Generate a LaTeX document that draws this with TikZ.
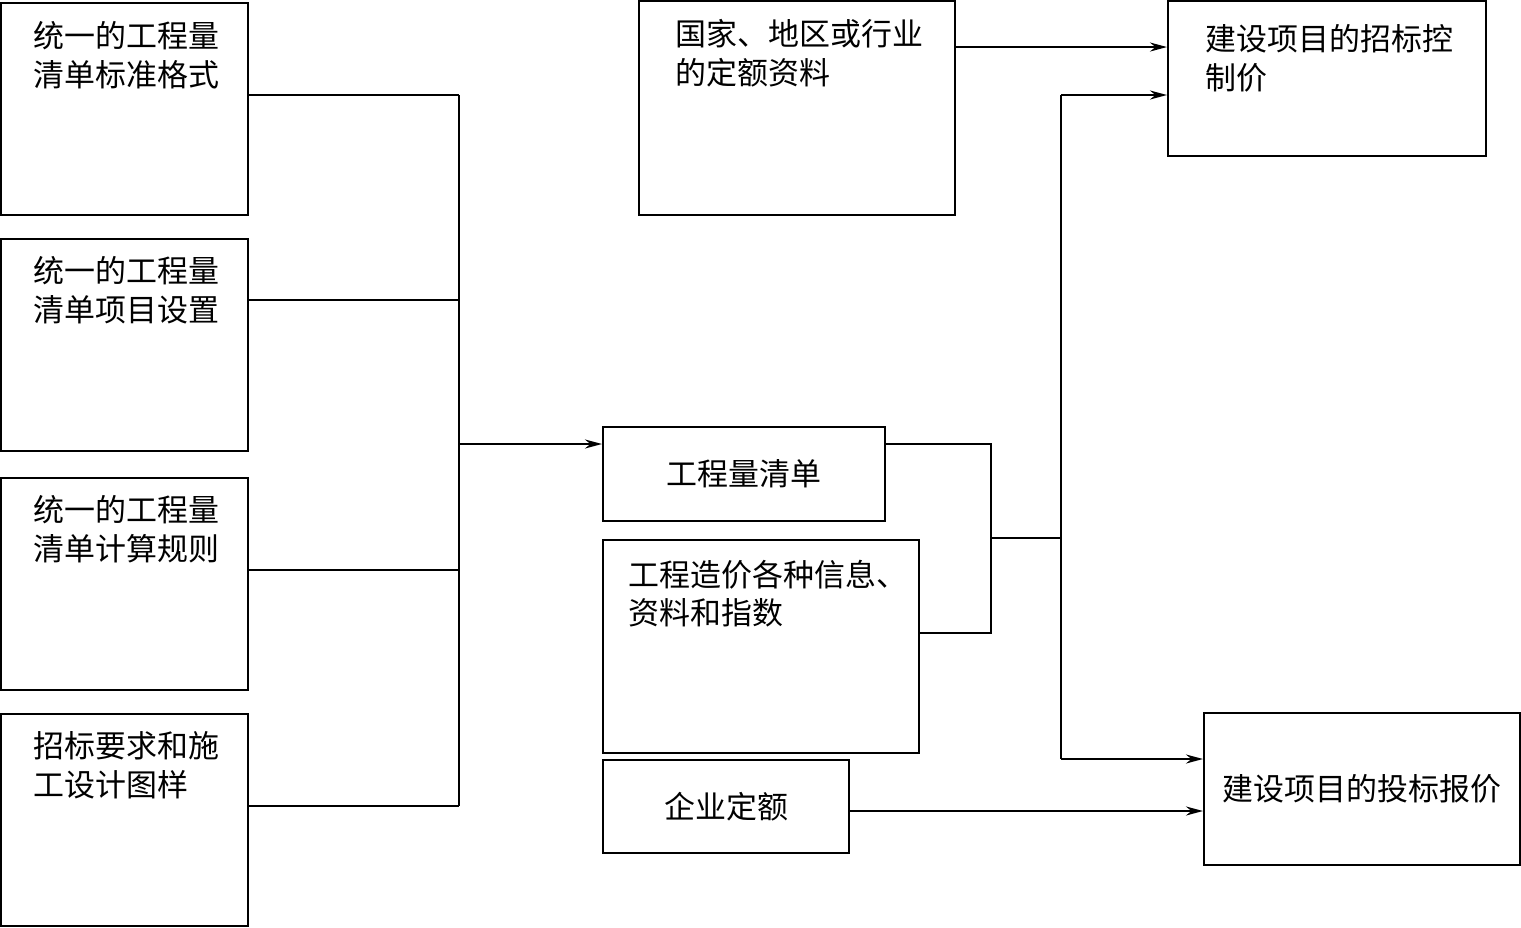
\documentclass[tikz,border=0pt]{standalone}
\usepackage{fontspec}
\setmainfont{Noto Sans CJK SC}
\usetikzlibrary{positioning,arrows.meta}

\begin{document}
\begin{tikzpicture}[
        x=0.01cm, y=-0.01cm,
        every node/.style={font=\fontsize{8.8pt}{10.9pt}\selectfont, align=left},
        box/.style={rectangle, draw=black, line width=0.6pt, inner sep=0pt, anchor=north west},
        txt/.style={anchor=north west, inner sep=0pt},
        line/.style={line width=0.6pt},
        arrow/.style={-{Stealth[length=1.7mm,width=0.9mm]}, line width=0.6pt}
    ]
    \useasboundingbox (0,0) rectangle (1521,927);
    % Nodes
    \node[box, minimum width=2.47cm, minimum height=2.12cm,
          label={[txt, xshift=0.33cm, yshift=-0.19cm]north west:统一的工程量\\清单标准格式}] (fmt) at (0,2) {};
    \node[box, minimum width=2.47cm, minimum height=2.12cm,
          label={[txt, xshift=0.33cm, yshift=-0.18cm]north west:统一的工程量\\清单项目设置}] (item) at (0,238) {};
    \node[box, minimum width=2.47cm, minimum height=2.12cm,
          label={[txt, xshift=0.33cm, yshift=-0.18cm]north west:统一的工程量\\清单计算规则}] (rule) at (0,477) {};
    \node[box, minimum width=2.47cm, minimum height=2.12cm,
          label={[txt, xshift=0.33cm, yshift=-0.18cm]north west:招标要求和施\\工设计图样}] (dwg) at (0,713) {};
    \node[box, minimum width=3.16cm, minimum height=2.14cm,
          label={[txt, xshift=0.37cm, yshift=-0.19cm]north west:国家、地区或行业\\的定额资料}] (quota) at (638,0) {};
    \node[box, minimum width=3.18cm, minimum height=1.55cm,
          label={[txt, xshift=0.38cm, yshift=-0.24cm]north west:建设项目的招标控\\制价}] (ctrl) at (1167,0) {};
    \node[box, minimum width=2.82cm, minimum height=0.94cm] (bill) at (602,426) {工程量清单};
    \node[box, minimum width=3.16cm, minimum height=2.13cm,
          label={[txt, xshift=0.26cm, yshift=-0.2cm]north west:工程造价各种信息、\\资料和指数}] (info) at (602,539) {};
    \node[box, minimum width=2.46cm, minimum height=0.93cm] (ent) at (602,759) {企业定额};
    \node[box, minimum width=3.16cm, minimum height=1.52cm] (bid) at (1203,712) {建设项目的投标报价};
    % Junctions
    \coordinate (b1) at (459,95);
    \coordinate (b2) at (459,300);
    \coordinate (b3) at (459,570);
    \coordinate (b4) at (459,806);
    \coordinate (bm) at (459,444);
    \coordinate (r1) at (991,444);
    \coordinate (r2) at (991,633);
    \coordinate (rm) at (991,538);
    \coordinate (s1) at (1061,95);
    \coordinate (sm) at (1061,538);
    \coordinate (s2) at (1061,759);
    % Lines
    \draw[line] (b1 -| fmt.east) -- (b1);
    \draw[line] (b2 -| item.east) -- (b2);
    \draw[line] (b3 -| rule.east) -- (b3);
    \draw[line] (b4 -| dwg.east) -- (b4);
    \draw[line] (b1) -- (b4);
    \draw[line] (r1 -| bill.east) -- (r1) -- (r2) -- (r2 -| info.east);
    \draw[line] (rm) -- (sm);
    \draw[line] (s1) -- (s2);
    % Arrows
    \draw[arrow] (bm) -- (bm -| bill.west);
    \draw[arrow] (s1) -- (s1 -| ctrl.west);
    \draw[arrow] (s2) -- (s2 -| bid.west);
    \draw[arrow] ([yshift=-0.47cm]quota.north east) -- ([yshift=-0.47cm]quota.north east -| ctrl.west);
    \draw[arrow] (ent.east |- 0,811) -- (bid.west |- 0,811);
\end{tikzpicture}
\end{document}
